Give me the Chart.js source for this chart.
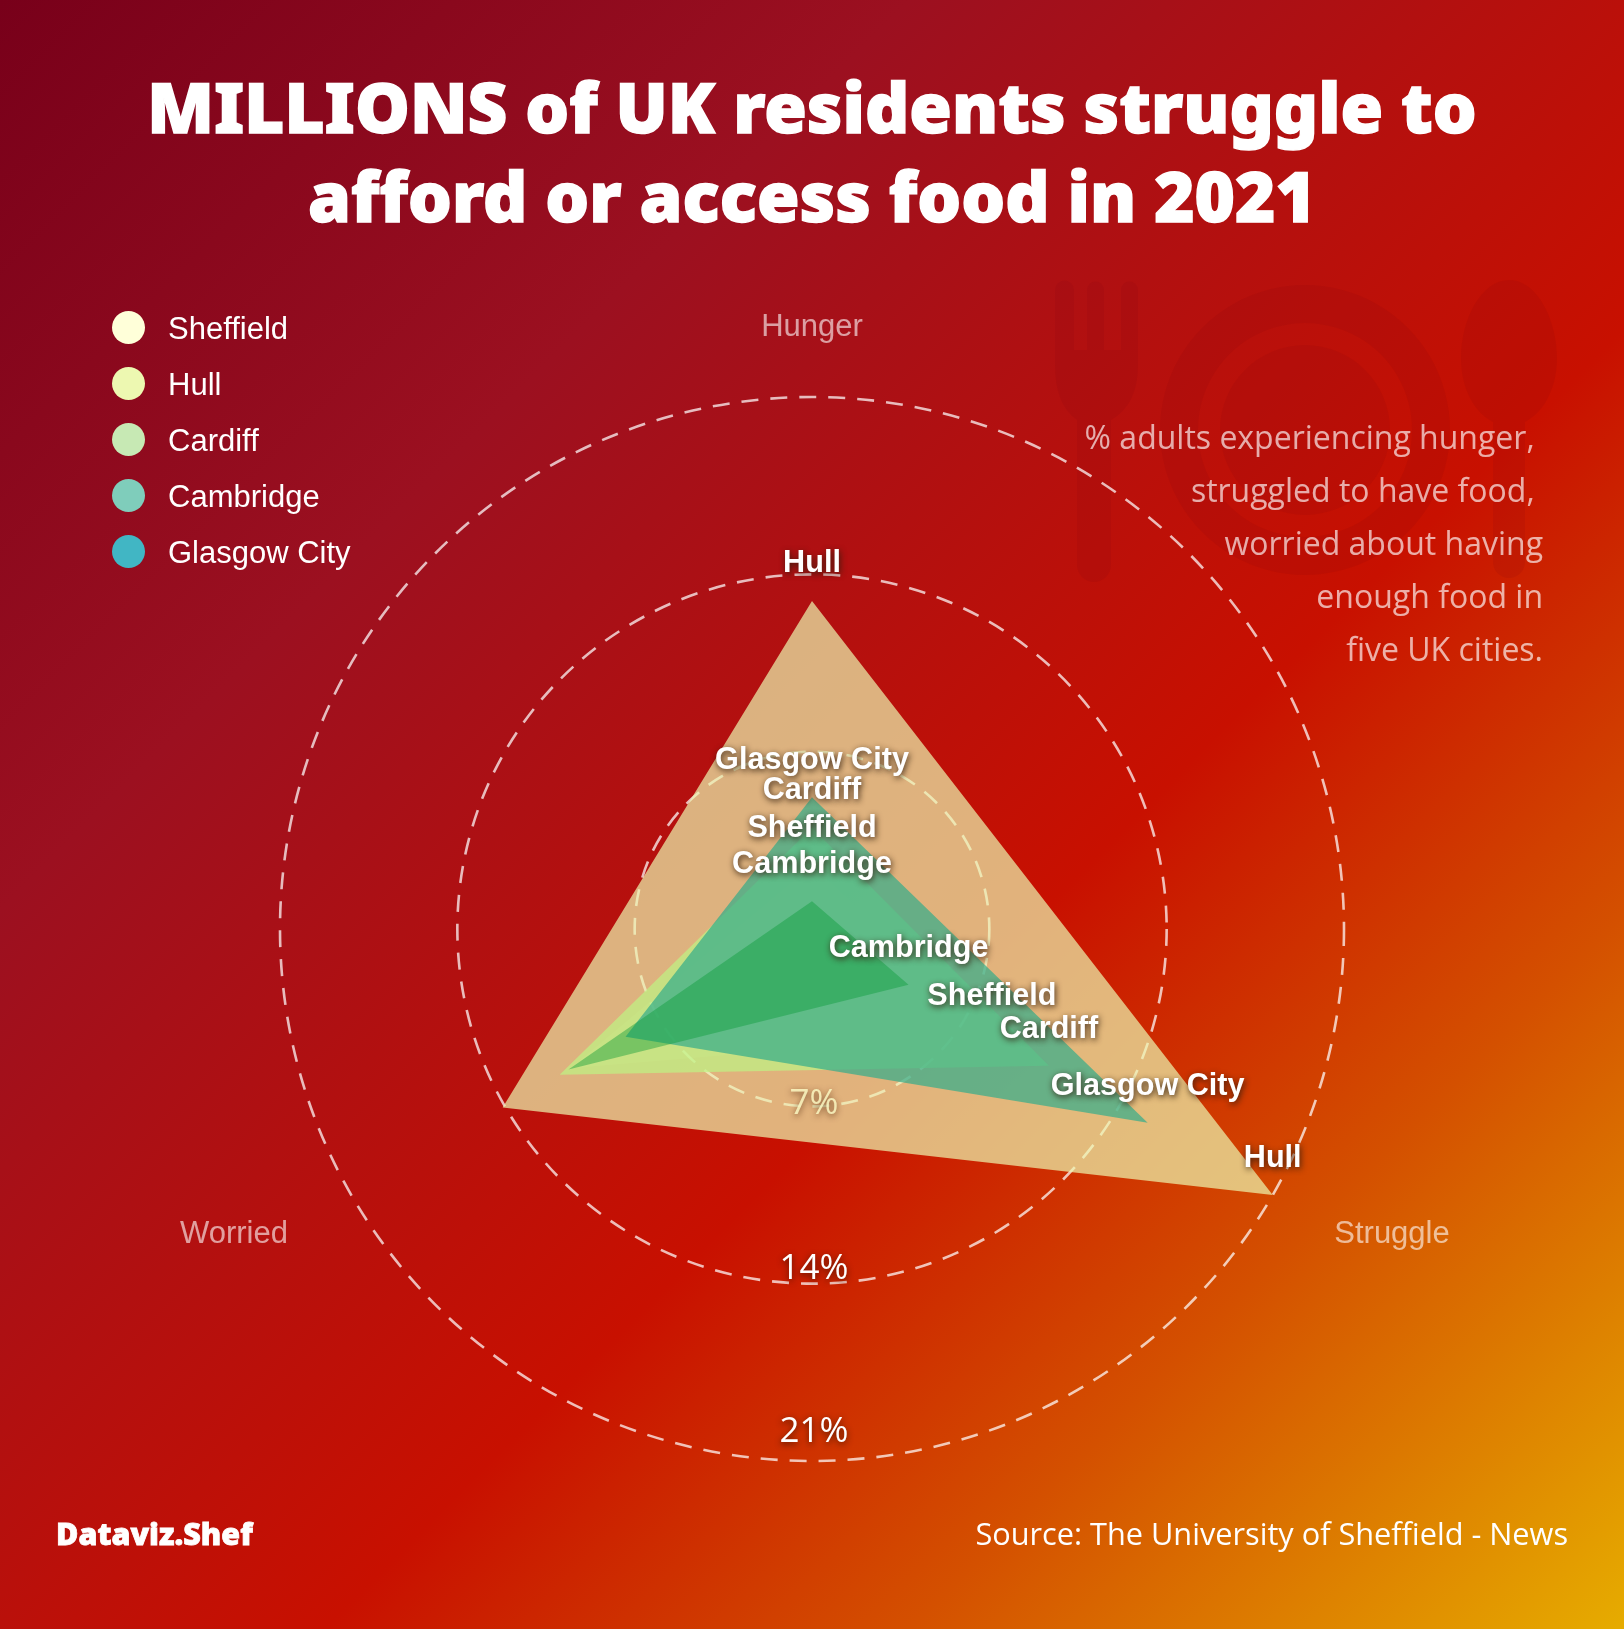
<!DOCTYPE html>
<html>
<head>
<meta charset="utf-8">
<title>UK food insecurity</title>
<script src="https://cdn.jsdelivr.net/npm/chart.js@4"></script>
<style>
html, body { margin: 0; padding: 0; }
body {
    width: 1624px; height: 1629px; position: relative; overflow: hidden;
    background: linear-gradient(135deg, #78001a 0%, #9c1020 28%, #c81000 60%, #d45000 78%, #e6ac00 100%);
    font-family: "Open Sans", sans-serif; color: #fff;
}
canvas { position: absolute; left: 0; top: 0; }
.txt { position: absolute; white-space: nowrap; }
#title {
    left: 0; width: 1624px; top: 62px; text-align: center;
    font-family: "Noto Sans", sans-serif;
    font-size: 69px; line-height: 89px; font-weight: 900;
    -webkit-text-stroke: 1.4px #fff;
}
#note {
    right: 81px; top: 410px; text-align: right;
    font-size: 32px; line-height: 53px; color: rgba(255,255,255,.66);
}
#brand {
    left: 56px; top: 1512px; font-family: "Noto Sans", sans-serif;
    font-size: 30.5px; font-weight: 900; -webkit-text-stroke: .8px #fff;
}
#source { right: 56px; top: 1512px; font-size: 30.7px; }
#legend { position: absolute; left: 112px; top: 311px; font-family: "Liberation Sans", sans-serif; font-size: 31px; }
#legend div { height: 56px; line-height: 35px; padding-left: 56px; position: relative; }
#legend i { position: absolute; left: 0; top: 0; width: 33px; height: 33px; border-radius: 50%; }
svg { position: absolute; left: 0; top: 0; }
</style>
</head>
<body>
<svg width="1624" height="1629" fill="#7a0010" fill-opacity=".1" stroke="none">
    <path d="M1055 290 a9.5 9.5 0 0 1 19 0 v60 h13 v-60 a8.5 8.5 0 0 1 17 0 v60 h17 v-60 a8.5 8.5 0 0 1 17 0 v75 q0 40 -27 55 v145 a17 17 0 0 1 -34 0 v-145 q-22 -15 -22 -55 z"/>
    <path fill-rule="evenodd" d="M1305 285 a145 145 0 1 0 .01 0 z M1305 323 a107 107 0 1 1 -.01 0 z"/>
    <circle cx="1305" cy="430" r="85"/>
    <path d="M1509 280 c28 0 48 40 48 78 c0 34 -16 56 -32 64 v140 a15 15 0 0 1 -32 0 v-140 c-16 -8 -32 -30 -32 -64 c0 -38 20 -78 48 -78 z"/>
</svg>
<canvas id="myChart" width="1624" height="1629"></canvas>
<div class="txt" id="title">MILLIONS of UK residents struggle to<br>afford or access food in 2021</div>
<div class="txt" id="note">% adults experiencing hunger,&nbsp;<br>struggled to have food,&nbsp;<br>worried about having<br>enough food in<br>five UK cities.</div>
<div id="legend"></div>
<div class="txt" id="brand">Dataviz.Shef</div>
<div class="txt" id="source">Source: The University of Sheffield - News</div>
<script>
// Data
let categories = ['Hunger', 'Struggle', 'Worried'];
let sheffield = [2.5, 8.2, 11.0];
let hull = [12.95, 21.0, 14.1];
let cardiff = [4.0, 10.8, 11.5];
let cambridge = [1.1, 4.4, 11.1];
let glasgow = [5.2, 15.3, 8.5];
let ringTicks = [7, 14, 21];

let legendNames = ['Sheffield', 'Hull', 'Cardiff', 'Cambridge', 'Glasgow City'];
let legendColors = ['#ffffd9', '#edf8b1', '#c7e9b4', '#7fcdbb', '#41b6c4'];

// html legend
legendNames.forEach(function (name, i) {
    let row = document.createElement('div');
    row.innerHTML = '<i style="background:' + legendColors[i] + '"></i>' + name;
    document.getElementById('legend').appendChild(row);
});

// labels above the vertices, only on the hunger and struggle axes
function cityLabels(chart) {
    let c = chart.ctx;
    c.save();
    c.font = 'bold 30.6px "Liberation Sans", sans-serif';
    c.textAlign = 'center';
    c.textBaseline = 'middle';
    c.fillStyle = '#fff';
    c.shadowColor = 'rgba(50,30,15,.95)';
    c.shadowBlur = 6;
    c.shadowOffsetX = 1;
    c.shadowOffsetY = 2;
    chart.data.datasets.forEach(function (ds, d) {
        let pts = chart.getDatasetMeta(d).data;
        c.fillText(ds.label, pts[0].x, pts[0].y - 37);
        c.fillText(ds.label, pts[1].x, pts[1].y - 36);
    });
    c.restore();
}

// percent labels sit on the bottom of each ring, axis titles are outside
function ringLabels(chart) {
    let c = chart.ctx;
    let r = chart.scales.r;
    c.save();
    c.textAlign = 'center';
    c.textBaseline = 'middle';
    c.font = '35px "Open Sans", sans-serif';
    ringTicks.forEach(function (t, i) {
        c.save();
        c.fillStyle = i == 0 ? 'rgba(255,255,200,.8)' : '#fff';
        c.shadowColor = 'rgba(60,20,0,.85)';
        c.shadowBlur = 6;
        c.shadowOffsetY = 2;
        let dy = [-2, -15, -29][i];
        c.fillText(t + '%', r.xCenter + 2, r.yCenter + r.getDistanceFromCenterForValue(t) + dy);
        c.restore();
    });
    c.font = '31px "Liberation Sans", sans-serif';
    c.fillStyle = 'rgba(255,255,255,.6)';
    c.fillText(categories[0], 812, 327);
    c.fillText(categories[1], 1392, 1234);
    c.fillText(categories[2], 234, 1234);
    c.restore();
}

let ctx = document.getElementById('myChart').getContext('2d');
let myChart = new Chart(ctx, {
    type: 'radar',
    data: {
        labels: categories,
        datasets: [
            { label: 'Sheffield', data: sheffield, backgroundColor: 'rgba(255,255,217,.12)', order: 5 },
            { label: 'Hull', data: hull, backgroundColor: 'rgba(237,248,177,.7)', order: 4 },
            { label: 'Cardiff', data: cardiff, backgroundColor: 'rgba(189,244,132,.7)', order: 3 },
            { label: 'Glasgow City', data: glasgow, backgroundColor: 'rgba(50,172,138,.7)', order: 2 },
            { label: 'Cambridge', data: cambridge, backgroundColor: 'rgba(10,155,55,.42)', order: 1 }
        ]
    },
    options: {
        responsive: false,
        animation: false,
        layout: { padding: { left: 280, right: 280, top: 397, bottom: 168 } },
        elements: {
            line: { borderWidth: 0, fill: true, tension: 0 },
            point: { radius: 0 }
        },
        scales: {
            r: {
                min: 0,
                max: 21,
                ticks: { display: false, stepSize: 7 },
                pointLabels: { display: false },
                angleLines: { display: false },
                grid: { circular: true, color: 'rgba(255,255,255,.72)', lineWidth: 2.6 },
                border: { dash: [17, 12] }
            }
        },
        plugins: { legend: { display: false }, tooltip: { enabled: false } }
    },
    plugins: [{ id: 'labels', afterDraw: function (chart) { ringLabels(chart); cityLabels(chart); } }]
});
</script>
</body>
</html>
